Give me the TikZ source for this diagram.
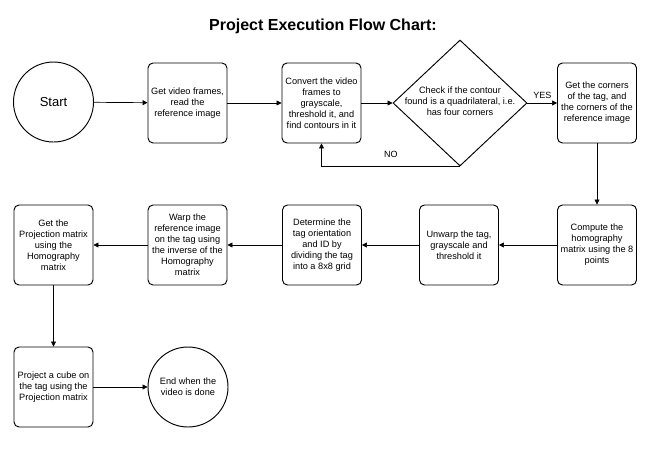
\documentclass[tikz,border=0pt]{standalone}
\usepackage{fontspec}
\setmainfont{Liberation Sans}
\usetikzlibrary{shapes.geometric,arrows.meta}
\begin{document}
\begin{tikzpicture}[x=1pt,y=-1pt,
  every node/.style={font=\fontsize{9.2}{11}\selectfont, align=center, inner sep=1pt},
  proc/.style={draw, line width=0.95pt, rounded corners=5pt, minimum width=79pt, minimum height=80pt},
  term/.style={draw, line width=0.95pt, circle, minimum size=80pt},
  dec/.style={draw, line width=0.95pt, diamond, minimum width=134pt, minimum height=126pt, inner sep=0pt},
  conn/.style={-{Triangle[length=5pt,width=5pt]}, line width=0.7pt},
  lbl/.style={font=\fontsize{9}{10}\selectfont}]
\useasboundingbox (0,0) rectangle (656,451);
\node[font=\bfseries\fontsize{16}{18}\selectfont] (title) at (323,26) {Project Execution Flow Chart:};
\node[term, font=\fontsize{13}{15}\selectfont] (start) at (53.5,102) {Start};
\node[proc] (frames) at (187.5,103) {Get video frames,\\read the\\reference image};
\node[proc] (gray) at (321.5,103) {Convert the video\\frames to\\grayscale,\\threshold it, and\\find contours in it};
\node[dec] (check) at (460,103) {};
\node (checktext) at (460,101) {Check if the contour\\found is a quadrilateral, i.e.\\has four corners};
\node[proc] (corners) at (597,103) {Get the corners\\of the tag, and\\the corners of the\\reference image};
\node[proc] (homog) at (597,245) {Compute the\\homography\\matrix using the 8\\points};
\node[proc] (unwarp) at (459,245) {Unwarp the tag,\\grayscale and\\threshold it};
\node[proc] (orient) at (322,245) {Determine the\\tag orientation\\and ID by\\dividing the tag\\into a 8x8 grid};
\node[proc] (warp) at (187.5,245) {Warp the\\reference image\\on the tag using\\the inverse of the\\Homography\\matrix};
\node[proc] (projm) at (53.5,245) {Get the\\Projection matrix\\using the\\Homography\\matrix};
\node[proc] (cube) at (53.5,387) {Project a cube on\\the tag using the\\Projection matrix};
\node[term] (endn) at (188,387) {End when the\\video is done};
\draw[conn] (start) -- (frames);
\draw[conn] (frames) -- (gray);
\draw[conn] (gray) -- (check);
\draw[conn] (check) -- node[lbl, above=3pt] (yes) {YES} (corners);
\draw[conn] (check.south) -- (gray.south |- check.south) node[lbl, pos=0.5, above=8pt] (no) {NO} -- (gray.south);
\draw[conn] (corners) -- (homog);
\draw[conn] (homog) -- (unwarp);
\draw[conn] (unwarp) -- (orient);
\draw[conn] (orient) -- (warp);
\draw[conn] (warp) -- (projm);
\draw[conn] (projm) -- (cube);
\draw[conn] (cube) -- (endn);
\end{tikzpicture}
\end{document}
